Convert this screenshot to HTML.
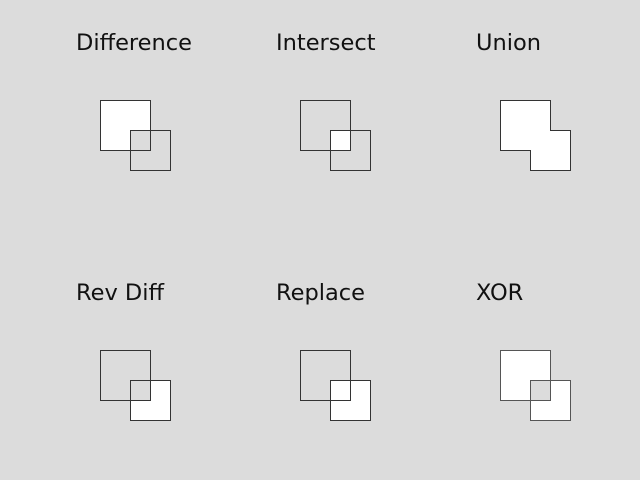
<!DOCTYPE html>
<html><head><style>
body{margin:0;background:#dcdcdc;}
svg{display:block;font-family:"DejaVu Sans","Liberation Sans",sans-serif;}
text{font-size:22.5px;fill:#111;}
</style></head><body>
<svg width="640" height="480">
<g transform="translate(0,0)">
<text x="76" y="50">Difference</text>
<path d="M100 100H150V130H130V150H100Z" fill="#fff"/>
<rect x="100.5" y="100.5" width="50" height="50" fill="none" stroke="#333"/>
<rect x="130.5" y="130.5" width="40" height="40" fill="none" stroke="#333"/>
</g>
<g transform="translate(200,0)">
<text x="76" y="50">Intersect</text>
<rect x="130" y="130" width="20" height="20" fill="#fff"/>
<rect x="100.5" y="100.5" width="50" height="50" fill="none" stroke="#333"/>
<rect x="130.5" y="130.5" width="40" height="40" fill="none" stroke="#333"/>
</g>
<g transform="translate(400,0)">
<text x="76" y="50">Union</text>
<path d="M100.5 100.5H150.5V130.5H170.5V170.5H130.5V150.5H100.5Z" fill="#fff" stroke="#333"/>
</g>
<g transform="translate(0,250)">
<text x="76" y="50">Rev Diff</text>
<path d="M150 130H170V170H130V150H150Z" fill="#fff"/>
<rect x="100.5" y="100.5" width="50" height="50" fill="none" stroke="#333"/>
<rect x="130.5" y="130.5" width="40" height="40" fill="none" stroke="#333"/>
</g>
<g transform="translate(200,250)">
<text x="76" y="50">Replace</text>
<rect x="130" y="130" width="40" height="40" fill="#fff"/>
<rect x="100.5" y="100.5" width="50" height="50" fill="none" stroke="#333"/>
<rect x="130.5" y="130.5" width="40" height="40" fill="none" stroke="#333"/>
</g>
<g transform="translate(400,250)">
<text x="76" y="50">XOR</text>
<path d="M100 100H150V130H130V150H100Z M150 130H170V170H130V150H150Z" fill="#fff"/>
<rect x="100.5" y="100.5" width="50" height="50" fill="none" stroke="#555"/>
<rect x="130.5" y="130.5" width="40" height="40" fill="none" stroke="#555"/>
</g>
</svg>
</body></html>
